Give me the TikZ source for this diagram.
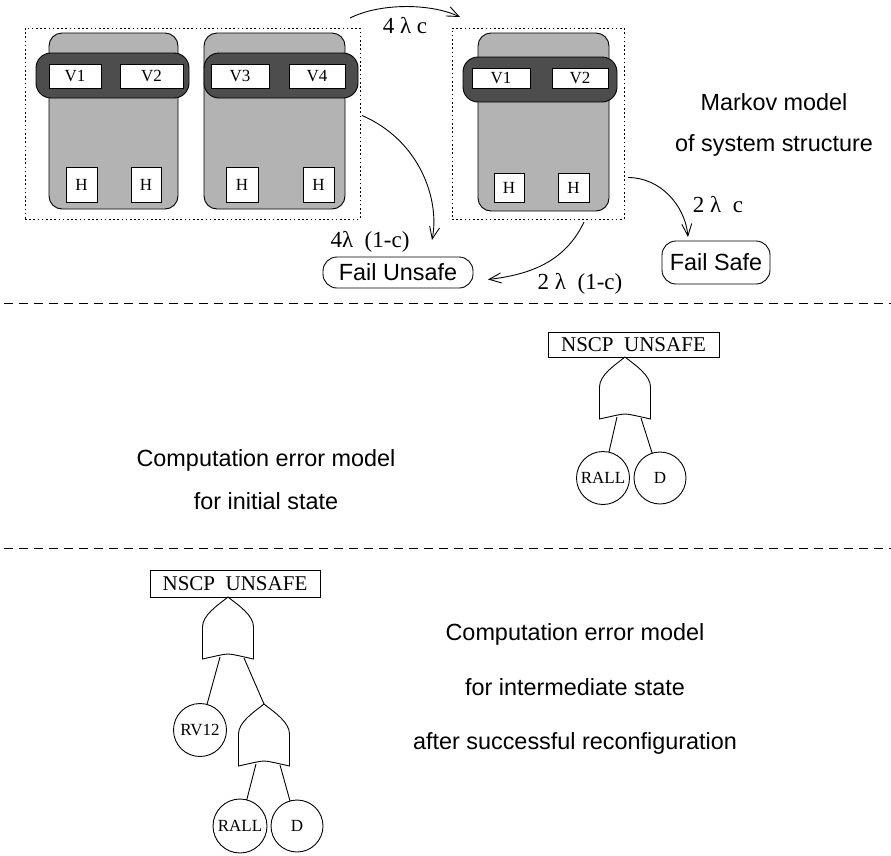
\documentclass[tikz,border=0pt]{standalone}
\usepackage{fontspec}
\setmainfont{Liberation Serif}
\setsansfont{Liberation Sans}
\usetikzlibrary{arrows.meta}
\definecolor{lightfill}{HTML}{B3B3B3}
\definecolor{darkfill}{HTML}{4D4D4D}
\begin{document}
\begin{tikzpicture}[x=1pt,y=-1pt,
  every node/.style={inner sep=0pt,outer sep=0pt},
  ln/.style={line width=0.9pt},
  dotbox/.style={draw,line width=0.9pt,dash pattern=on 1.6pt off 2.6pt},
  graybox/.style={draw,line width=0.9pt,fill=lightfill,rounded corners=13pt},
  band/.style={draw,line width=0.9pt,fill=darkfill,rounded corners=15pt},
  vbox/.style={draw,line width=0.9pt,fill=white,font=\fontsize{17}{20}\selectfont},
  hbox/.style={draw,line width=0.9pt,fill=white,font=\fontsize{17}{20}\selectfont},
  failbox/.style={draw,line width=0.9pt,rounded corners=14pt,font=\sffamily\fontsize{23.4}{28}\selectfont},
  sanslbl/.style={anchor=base,font=\sffamily\fontsize{23.4}{28}\selectfont},
  rate/.style={anchor=base,font=\fontsize{23}{27}\selectfont},
  topbox/.style={draw,line width=0.9pt,font=\fontsize{21}{25}\selectfont},
  evt/.style={draw,circle,line width=0.9pt,font=\fontsize{17}{20}\selectfont},
  arr/.style={line width=0.9pt,-{Straight Barb[length=12pt,width=10pt,line width=0.9pt]}},
  sep/.style={line width=0.9pt,dash pattern=on 9pt off 6pt},
  orgate/.pic={
    \draw[line width=0.9pt] (-25.5,62) -- (-25.5,30)
      .. controls (-25.5,18) and (-10,8) .. (0,0)
      .. controls (10,8) and (25.5,18) .. (25.5,30) -- (25.5,62)
      .. controls (12,59) and (4,57) .. (0,57)
      .. controls (-4,57) and (-12,59) .. cycle;
    \coordinate (-tip) at (0,0);
    \coordinate (-in1) at (-8,60);
    \coordinate (-in2) at (16,61);
  }]
\useasboundingbox (0,0) rectangle (891,855);

% ---------- Markov model, state A ----------
\node[dotbox,minimum width=335pt,minimum height=191pt] (stA) at (192.5,123.5) {};
\node[graybox,minimum width=129pt,minimum height=176pt] (gA1) at (113.5,121) {};
\node[graybox,minimum width=141pt,minimum height=176pt] (gA2) at (274.5,121) {};
\node[band,minimum width=153pt,minimum height=45pt] (bA1) at (112.5,75.5) {};
\node[band,minimum width=154pt,minimum height=45pt] (bA2) at (281,75.5) {};
\node[vbox,minimum width=52pt,minimum height=24pt] (v1) at (75,76) {V1};
\node[vbox,minimum width=63pt,minimum height=24pt] (v2) at (151.5,76) {V2};
\node[vbox,minimum width=58pt,minimum height=24pt] (v3) at (240,76) {V3};
\node[vbox,minimum width=56pt,minimum height=24pt] (v4) at (317,76) {V4};
\node[hbox,minimum width=31pt,minimum height=35pt] (h1) at (81.5,184.5) {H};
\node[hbox,minimum width=30pt,minimum height=35pt] (h2) at (146,184.5) {H};
\node[hbox,minimum width=32pt,minimum height=35pt] (h3) at (242,184.5) {H};
\node[hbox,minimum width=31pt,minimum height=35pt] (h4) at (318.5,184.5) {H};

% ---------- state B ----------
\node[dotbox,minimum width=172pt,minimum height=191pt] (stB) at (538,123.5) {};
\node[graybox,minimum width=131pt,minimum height=178pt] (gB) at (543.5,122) {};
\node[band,minimum width=154pt,minimum height=45pt] (bB) at (540,79.5) {};
\node[vbox,minimum width=58pt,minimum height=20pt] (v1b) at (501,78) {V1};
\node[vbox,minimum width=56pt,minimum height=20pt] (v2b) at (580,78) {V2};
\node[hbox,minimum width=30pt,minimum height=29pt] (h5) at (509,188) {H};
\node[hbox,minimum width=31pt,minimum height=29pt] (h6) at (573.5,188) {H};

% ---------- failure states ----------
\node[failbox,minimum width=150pt,minimum height=31pt] (fu) at (398,272.5) {Fail Unsafe};
\node[failbox,minimum width=108pt,minimum height=43pt] (fs) at (716,262.5) {Fail Safe};

% ---------- transitions ----------
\draw[arr] ([shift={(-10pt,10pt)}]stA.north east) .. controls +(30,-15) and +(-30,-14) .. ([shift={(8pt,11pt)}]stB.north west);
\draw[arr] ([shift={(2pt,8pt)}]stA.east) .. controls +(58,25) and +(8,-40) .. ([shift={(34pt,17pt)}]fu.north);
\draw[arr] ([shift={(46pt,-3pt)}]stB.south) .. controls +(-19,40) and +(42,-5) .. ([shift={(15pt,-7pt)}]fu.east);
\draw[arr] ([shift={(4pt,-54pt)}]stB.east) .. controls +(32,0) and +(-3,-32) .. ([shift={(-28pt,4pt)}]fs.north);

\node[rate] (r1) at (405,33) {4 λ c};
\node[rate] (r2) at (370,247) {4λ \ (1-c)};
\node[rate] (r3) at (580,289) {2 λ \ (1-c)};
\node[rate] (r4) at (718,212) {2 λ \ c};

\node[sanslbl] (mk1) at (774,110) {Markov model};
\node[sanslbl] (mk2) at (774,151) {of system structure};

% ---------- separators ----------
\coordinate (s1a) at (4,303);
\coordinate (s1b) at (891,303);
\coordinate (s2a) at (4,548);
\coordinate (s2b) at (891,548);
\draw[sep] (s1a) -- (s1b);
\draw[sep] (s2a) -- (s2b);

% ---------- fault tree, initial state ----------
\node[topbox,minimum width=171pt,minimum height=25pt] (top1) at (633.5,344.5) {NSCP\ \ UNSAFE};
\pic (g1) at (625,357) {orgate};
\node[evt,minimum size=53pt] (rall1) at (603,478) {RALL};
\node[evt,minimum size=52pt] (d1) at (660,478) {D};
\draw[ln] (g1-in1) -- (rall1);
\draw[ln] (g1-in2) -- (d1);

\node[sanslbl] (ce1) at (266,466) {Computation error model};
\node[sanslbl] (ce2) at (266,509) {for initial state};

% ---------- fault tree, intermediate state ----------
\node[topbox,minimum width=170pt,minimum height=27pt] (top2) at (235,583.5) {NSCP\ \ UNSAFE};
\pic (g2) at (228,597) {orgate};
\node[evt,minimum size=53pt] (rv12) at (200,730) {RV12};
\pic (g3) at (264,704) {orgate};
\node[evt,minimum size=54pt] (rall2) at (240,826) {RALL};
\node[evt,minimum size=52pt] (d2) at (297,826) {D};
\draw[ln] (g2-in1) -- (rv12);
\draw[ln] (g2-in2) -- (g3-tip);
\draw[ln] (g3-in1) -- (rall2);
\draw[ln] (g3-in2) -- (d2);

\node[sanslbl] (ce3) at (575,640) {Computation error model};
\node[sanslbl] (ce4) at (575,695) {for intermediate state};
\node[sanslbl] (ce5) at (575,749) {after successful reconfiguration};
\end{tikzpicture}
\end{document}
